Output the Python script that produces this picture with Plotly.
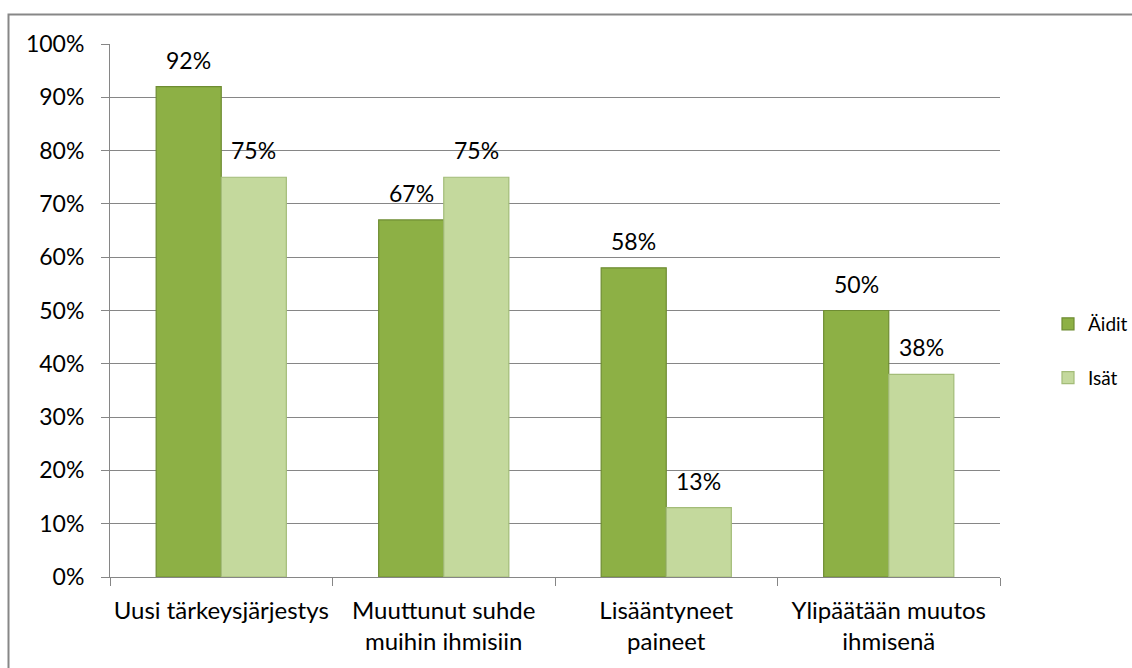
import plotly.graph_objects as go

categories = ["Uusi tärkeysjärjestys", "Muuttunut suhde<br>muihin ihmisiin",
              "Lisääntyneet<br>paineet", "Ylipäätään muutos<br>ihmisenä"]
aidit = [92, 67, 58, 50]
isat = [75, 75, 13, 38]
series_names = ["Äidit", "Isät"]
tick_vals = [0, 10, 20, 30, 40, 50, 60, 70, 80, 90, 100]
tick_text = [f"{v}%" for v in tick_vals]

FONT = "Lato, 'Open Sans', sans-serif"
W, H = 1132, 668
L, R, T, B = 110, 132, 44, 91
pw, ph = W - L - R, H - T - B

fig = go.Figure()
fig.add_trace(go.Bar(x=categories, y=aidit, name=series_names[0], legendgroup="a",
                     marker=dict(color="#8DB045", line=dict(color="#6E8C32", width=1.2))))
fig.add_trace(go.Bar(x=categories, y=isat, name=series_names[1], legendgroup="b",
                     marker=dict(color="#C4D99D", line=dict(color="#A3BC78", width=1.2))))

# data labels
for vals, shift in ((aidit, -32.5), (isat, 32.5)):
    for c, v in zip(categories, vals):
        fig.add_annotation(x=c, y=v, text=f"{v}%", showarrow=False, xshift=shift, yshift=27,
                           font=dict(family=FONT, size=23, color="#000000"))

def px_x(p):
    return (p - L) / pw

def px_y(p):
    return (H - B - p) / ph

fig.add_shape(type="rect", xref="paper", yref="paper",
              x0=px_x(8.5), x1=px_x(1140), y0=px_y(14.5), y1=px_y(680),
              line=dict(color="#878787", width=2), fillcolor="rgba(0,0,0,0)", layer="below")

fig.update_layout(
    width=W, height=H,
    margin=dict(l=L, r=R, t=T, b=B, pad=0, autoexpand=False),
    paper_bgcolor="white", plot_bgcolor="white",
    barmode="group", bargap=0.415, bargroupgap=0,
    font=dict(family=FONT, size=23, color="#000000"),
    legend=dict(x=1048 / W, y=1 - 305 / H, xref="container", yref="container",
                xanchor="left", yanchor="top",
                font=dict(family=FONT, size=19), tracegroupgap=26, itemwidth=30,
                traceorder="grouped", bgcolor="rgba(0,0,0,0)"),
    showlegend=True,
)
fig.update_xaxes(showline=True, linecolor="#868686", linewidth=1,
                 ticks="outside", tickson="boundaries", ticklen=8, tickcolor="#868686",
                 tickfont=dict(family=FONT, size=24), showgrid=False, ticklabelstandoff=12,
                 tickangle=0)
fig.update_yaxes(range=[0, 100], tickvals=tick_vals, ticktext=tick_text,
                 showline=True, linecolor="#868686", linewidth=1,
                 ticks="outside", ticklen=8, tickcolor="#868686",
                 showgrid=True, gridcolor="#868686", gridwidth=1,
                 tickfont=dict(family=FONT, size=23), zeroline=False, ticklabelstandoff=12)

fig.write_html("out.html", config={"displayModeBar": False},
               post_script="document.body.style.margin='0';")
